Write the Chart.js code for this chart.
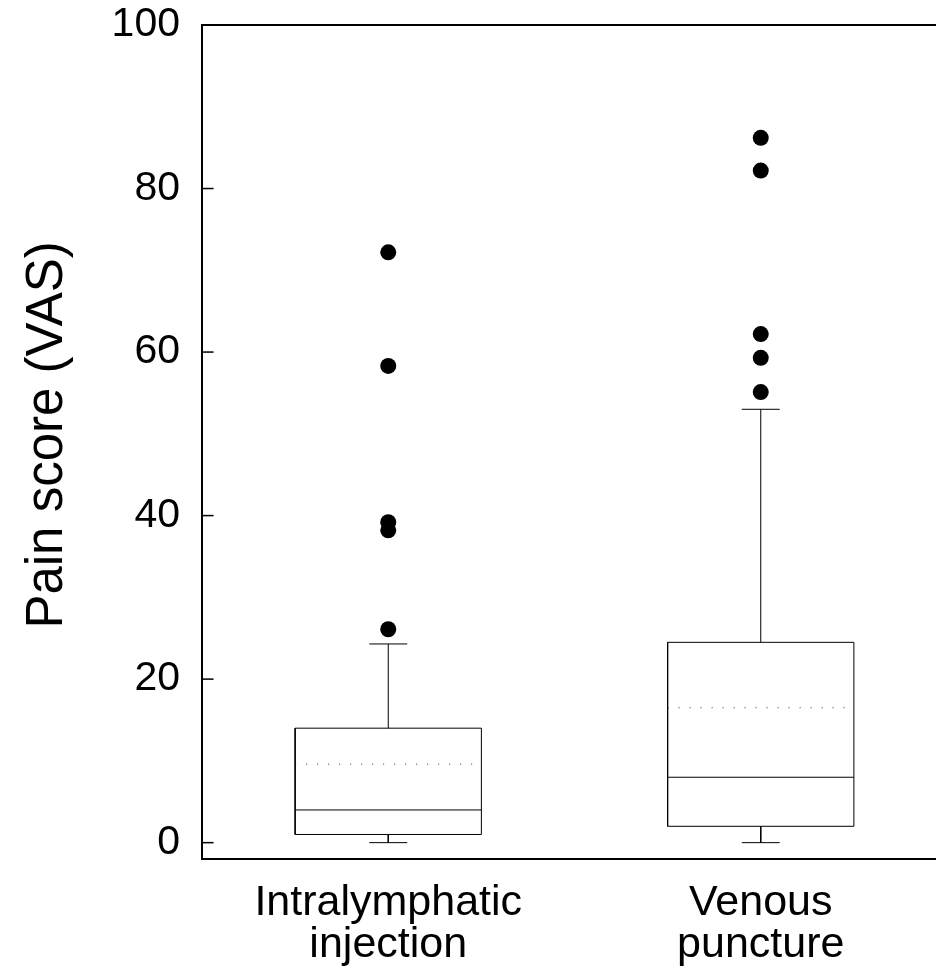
<!DOCTYPE html>
<html>
<head>
<meta charset="utf-8">
<script src="https://cdn.jsdelivr.net/npm/chart.js@4.4.1/dist/chart.umd.min.js"></script>
<style>
  html, body { margin: 0; padding: 0; background: #fff; }
  #wrap { width: 936px; height: 974px; overflow: hidden; }
</style>
</head>
<body>
<div id="wrap"><canvas id="chart" width="960" height="974"></canvas></div>
<script>
const categories = [["Intralymphatic", "injection"], ["Venous", "puncture"]];
const whiskerLow = [0, 0];
const q1 = [1, 2];
const median = [4, 8];
const mean = [9.6, 16.5];
const q3 = [14, 24.5];
const whiskerHigh = [24.3, 53];
const outliers = [
  [26.1, 38.2, 39.2, 58.3, 72.2],
  [55.1, 59.3, 62.2, 82.2, 86.2]
];
const yTicks = [0, 20, 40, 60, 80, 100];

const xMin = 0.5;
const xMax = 2.5;
const boxHalf = 0.25;
const capHalf = 0.051;
const tickLen = 0.031;
const font = "'Liberation Sans', Arial, sans-serif";

function seg(x1, y1, x2, y2) {
  return [{ x: x1, y: y1 }, { x: x2, y: y2 }];
}

function lineSet(data, extra) {
  return Object.assign({
    data: data,
    showLine: true,
    borderColor: "#000",
    borderWidth: 1,
    pointRadius: 0,
    fill: false,
    tension: 0
  }, extra || {});
}

const datasets = [];
categories.forEach((cat, i) => {
  const x = i + 1;
  // box
  datasets.push(lineSet([
    { x: x - boxHalf, y: q1[i] },
    { x: x + boxHalf, y: q1[i] },
    { x: x + boxHalf, y: q3[i] },
    { x: x - boxHalf, y: q3[i] },
    { x: x - boxHalf, y: q1[i] }
  ]));
  datasets.push(lineSet(seg(x - boxHalf, median[i], x + boxHalf, median[i])));
  datasets.push(lineSet(seg(x - boxHalf, mean[i], x + boxHalf, mean[i]), {
    borderColor: "#333",
    borderDash: [1, 10]
  }));
  // whiskers and caps
  datasets.push(lineSet(seg(x, q3[i], x, whiskerHigh[i])));
  datasets.push(lineSet(seg(x - capHalf, whiskerHigh[i], x + capHalf, whiskerHigh[i])));
  datasets.push(lineSet(seg(x, q1[i], x, whiskerLow[i])));
  datasets.push(lineSet(seg(x - capHalf, whiskerLow[i], x + capHalf, whiskerLow[i])));
  // outliers
  datasets.push({
    data: outliers[i].map((v) => ({ x: x, y: v })),
    showLine: false,
    pointRadius: 8,
    pointBackgroundColor: "#000",
    pointBorderColor: "#000",
    pointBorderWidth: 0
  });
});

// y ticks point inward, into the plot
yTicks.forEach((v) => {
  datasets.push(lineSet(seg(xMin, v, xMin + tickLen, v), { borderWidth: 1.5 }));
});

new Chart(document.getElementById("chart"), {
  type: "scatter",
  data: { datasets: datasets },
  options: {
    responsive: false,
    animation: false,
    layout: { padding: { top: 25, right: 13, left: 0, bottom: 0 } },
    plugins: { legend: { display: false }, tooltip: { enabled: false } },
    scales: {
      x: {
        type: "linear",
        position: "bottom",
        min: xMin,
        max: xMax,
        afterBuildTicks: (axis) => {
          axis.ticks = categories.map((c, i) => ({ value: i + 1 }));
        },
        afterFit: (axis) => { axis.height = 115; },
        ticks: {
          color: "#000",
          padding: 23,
          font: { family: font, size: 43, lineHeight: 0.98 },
          callback: (value) => categories[value - 1]
        },
        grid: { drawOnChartArea: false, drawTicks: false },
        border: { color: "#000", width: 2 }
      },
      x2: {
        type: "linear",
        position: "top",
        min: xMin,
        max: xMax,
        afterFit: (axis) => { axis.height = 0; },
        ticks: { display: false },
        grid: { drawOnChartArea: false, drawTicks: false },
        border: { color: "#000", width: 2 }
      },
      y: {
        min: -2,
        max: 100,
        afterBuildTicks: (axis) => {
          axis.ticks = yTicks.map((v) => ({ value: v }));
        },
        afterFit: (axis) => {
          axis.width = 202;
          axis.paddingTop = 0;
          axis.paddingBottom = 0;
        },
        title: {
          display: true,
          text: "\u00a0Pain score (VAS)",
          color: "#000",
          font: { family: font, size: 51 },
          padding: { top: 17, bottom: 0 }
        },
        ticks: {
          color: "#000",
          padding: 22,
          font: { family: font, size: 41 }
        },
        grid: { drawOnChartArea: false, drawTicks: false },
        border: { color: "#000", width: 2 }
      }
    }
  }
});
</script>
</body>
</html>
